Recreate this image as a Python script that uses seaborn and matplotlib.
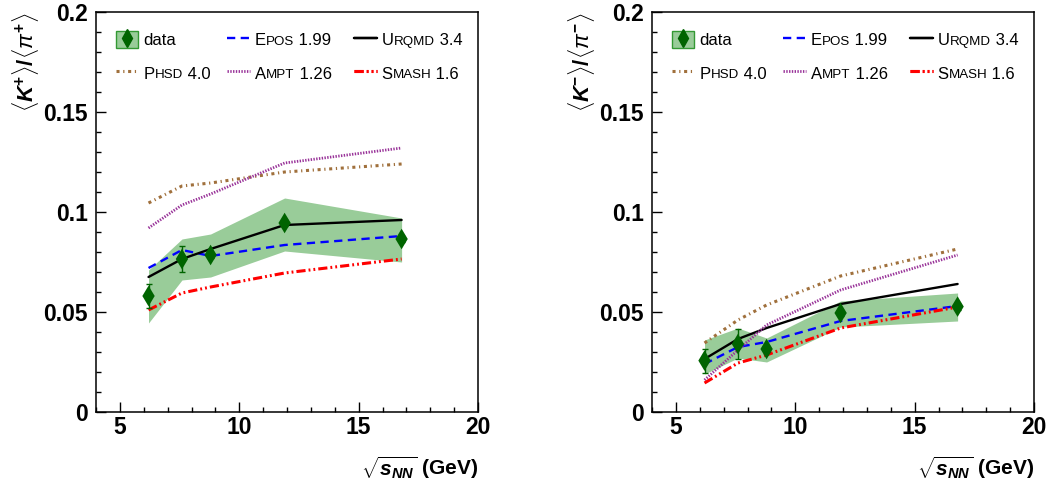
import numpy as np
import pandas as pd
import matplotlib
matplotlib.use("Agg")
import matplotlib.pyplot as plt
import seaborn as sns
from matplotlib.lines import Line2D
from matplotlib.patches import Patch
from matplotlib.legend_handler import HandlerTuple
from matplotlib.ticker import MultipleLocator, FuncFormatter

# ---------------- data ----------------
energies = [6.2, 7.6, 8.8, 11.9, 16.8]

kp_data = [0.058, 0.0765, 0.0785, 0.0945, 0.0865]
kp_stat = [0.006, 0.0065, 0.0015, 0.0015, 0.0015]
kp_sys_lo = [0.0445, 0.066, 0.0675, 0.0805, 0.075]
kp_sys_hi = [0.071, 0.0865, 0.089, 0.107, 0.097]
kp_epos = [0.072, 0.081, 0.078, 0.0835, 0.088]
kp_urqmd = [0.0675, 0.0765, 0.0815, 0.0935, 0.096]
kp_phsd = [0.1045, 0.113, 0.1145, 0.12, 0.124]
kp_ampt = [0.092, 0.1035, 0.109, 0.1245, 0.132]
kp_smash = [0.051, 0.0595, 0.0625, 0.0695, 0.0765]

km_data = [0.0257, 0.034, 0.0315, 0.0495, 0.0527]
km_stat = [0.006, 0.0075, 0.0015, 0.0015, 0.0015]
km_sys_lo = [0.019, 0.027, 0.025, 0.0425, 0.0455]
km_sys_hi = [0.036, 0.042, 0.037, 0.0555, 0.0595]
km_epos = [0.024, 0.0325, 0.035, 0.0455, 0.053]
km_urqmd = [0.0265, 0.0365, 0.042, 0.054, 0.064]
km_phsd = [0.0345, 0.046, 0.0535, 0.068, 0.0815]
km_ampt = [0.016, 0.031, 0.0435, 0.061, 0.0785]
km_smash = [0.0145, 0.0245, 0.0285, 0.042, 0.0525]

model_names = ["EPOS", "UrQMD", "PHSD", "AMPT", "SMASH"]

# ---------------- styles ----------------
styles = {
    "EPOS":  dict(color="#0000ff", lw=1.7, ls=(0, (3.5, 2.3))),
    "UrQMD": dict(color="#000000", lw=1.7, ls="-"),
    "PHSD":  dict(color="#a0703c", lw=2.2, ls=(0, (1.0, 1.2, 0.4, 1.2))),
    "AMPT":  dict(color="#993399", lw=2.0, ls=(0, (0.5, 0.5))),
    "SMASH": dict(color="#ff0000", lw=2.2, ls=(0, (3.0, 1.0, 0.6, 1.0, 0.6, 1.0))),
}
band_color = "#99cc99"
data_color = "#006400"

sns.set_theme(style="ticks")
plt.rcParams["font.family"] = ["Liberation Sans", "DejaVu Sans"]
plt.rcParams["mathtext.fontset"] = "custom"
plt.rcParams["mathtext.rm"] = "Liberation Sans:bold"
plt.rcParams["mathtext.it"] = "Liberation Sans:italic"
plt.rcParams["mathtext.bf"] = "Liberation Sans:bold:italic"
for k in ["text.color", "axes.labelcolor", "xtick.color", "ytick.color", "axes.edgecolor"]:
    plt.rcParams[k] = "black"

fig = plt.figure(figsize=(10.54, 4.86), dpi=100)
W, H = 1054, 486
ax1 = fig.add_axes([96 / W, (H - 412) / H, 382 / W, 400 / H])
ax2 = fig.add_axes([652 / W, (H - 412) / H, 382 / W, 400 / H])

panels = [
    (ax1, kp_data, kp_stat, kp_sys_lo, kp_sys_hi,
     [kp_epos, kp_urqmd, kp_phsd, kp_ampt, kp_smash],
     r"$\langle\mathbf{K}^{\mathrm{+}}\rangle/\langle\pi^{\mathrm{+}}\rangle$"),
    (ax2, km_data, km_stat, km_sys_lo, km_sys_hi,
     [km_epos, km_urqmd, km_phsd, km_ampt, km_smash],
     r"$\langle\mathbf{K}^{\mathrm{-}}\rangle/\langle\pi^{\mathrm{-}}\rangle$"),
]

LEG_FS = 12

def smallcaps_overlay(ax, leg, entries):
    for txt, entry in zip(leg.get_texts(), entries):
        if entry is None:
            continue
        first, rest, tail = entry
        txt.set_alpha(0)
        a1 = ax.annotate(first, xy=(0, 0), xycoords=txt, va="bottom", ha="left",
                         fontsize=LEG_FS, zorder=10, annotation_clip=False)
        a2 = ax.annotate(rest, xy=(1, 0), xycoords=a1, va="bottom", ha="left",
                         xytext=(0, 0.5), textcoords="offset points",
                         fontsize=LEG_FS * 0.8, zorder=10, annotation_clip=False)
        ax.annotate(tail, xy=(1, 0), xycoords=a2, va="bottom", ha="left",
                    xytext=(0, -0.5), textcoords="offset points",
                    fontsize=LEG_FS, zorder=10, annotation_clip=False)

for ax, dvals, dstat, slo, shi, mvals, ylab in panels:
    ax.fill_between(energies, slo, shi, color=band_color, lw=0, zorder=1)
    for name, vals in zip(model_names, mvals):
        st = styles[name]
        df = pd.DataFrame({"x": energies, "y": vals})
        sns.lineplot(data=df, x="x", y="y", ax=ax, color=st["color"], lw=st["lw"],
                     linestyle=st["ls"], errorbar=None, zorder=3, legend=False)
    ax.errorbar(energies, dvals, yerr=dstat, fmt="none", ecolor=data_color,
                elinewidth=1.0, capsize=2.5, capthick=1.0, zorder=4)
    sns.scatterplot(x=energies, y=dvals, ax=ax, marker="d", s=110,
                    color=data_color, edgecolor="none", zorder=5, legend=False)

    ax.set_xlim(4, 20)
    ax.set_ylim(0, 0.2)
    ax.xaxis.set_major_locator(MultipleLocator(5))
    ax.xaxis.set_minor_locator(MultipleLocator(1))
    ax.yaxis.set_major_locator(MultipleLocator(0.05))
    ax.yaxis.set_minor_locator(MultipleLocator(0.01))
    ax.yaxis.set_major_formatter(FuncFormatter(lambda v, p: f"{v:g}"))
    ax.tick_params(which="both", direction="in", top=False, right=False,
                   width=1.0, color="black", labelcolor="black")
    ax.tick_params(which="major", length=7, labelsize=16.5)
    ax.tick_params(axis="x", which="major", pad=3)
    ax.tick_params(axis="y", which="major", pad=6)
    ax.tick_params(which="minor", length=3.5)
    for lab in ax.get_xticklabels() + ax.get_yticklabels():
        lab.set_fontweight("bold")
    for sp in ax.spines.values():
        sp.set_visible(True)
        sp.set_linewidth(1.1)
        sp.set_color("black")
    ax.set_facecolor("white")

    ax.set_ylabel(ylab, fontsize=16, loc="top")
    ax.yaxis.set_label_coords(-0.145, 1.0)
    ax.set_xlabel(r"$\sqrt{\mathbf{s}_{\mathbf{NN}}}$ (GeV)", fontsize=15,
                  fontweight="bold", loc="right")
    ax.xaxis.set_label_coords(1.0, -0.105)

    # legends (three columns)
    data_handle = (Patch(facecolor=band_color, edgecolor="#339933", lw=1.0),
                   Line2D([], [], ls="none", marker="d", markersize=9,
                          color=data_color))
    def line_handle(name):
        st = styles[name]
        return Line2D([], [], color=st["color"], lw=st["lw"], linestyle=st["ls"])

    cols = [
        (0.052, [data_handle, line_handle("PHSD")], ["data", "PHSD 4.0"],
         [None, ("P", "HSD", " 4.0")]),
        (0.344, [line_handle("EPOS"), line_handle("AMPT")], ["EPOS 1.99", "AMPT 1.26"],
         [("E", "POS", " 1.99"), ("A", "MPT", " 1.26")]),
        (0.676, [line_handle("UrQMD"), line_handle("SMASH")], ["URQMD 3.4", "SMASH 1.6"],
         [("U", "RQMD", " 3.4"), ("S", "MASH", " 1.6")]),
    ]
    for xa, hs, labs, sc in cols:
        leg = ax.legend(hs, labs, loc="upper left", bbox_to_anchor=(xa, 0.953),
                        frameon=False, fontsize=LEG_FS, handlelength=1.35,
                        handleheight=1.25, handletextpad=0.3, labelspacing=0.95,
                        borderpad=0, borderaxespad=0,
                        handler_map={tuple: HandlerTuple(ndivide=1, pad=0)})
        ax.add_artist(leg)
        smallcaps_overlay(ax, leg, sc)

fig.canvas.draw()
fig.savefig("out.png", dpi=100, facecolor="white")
